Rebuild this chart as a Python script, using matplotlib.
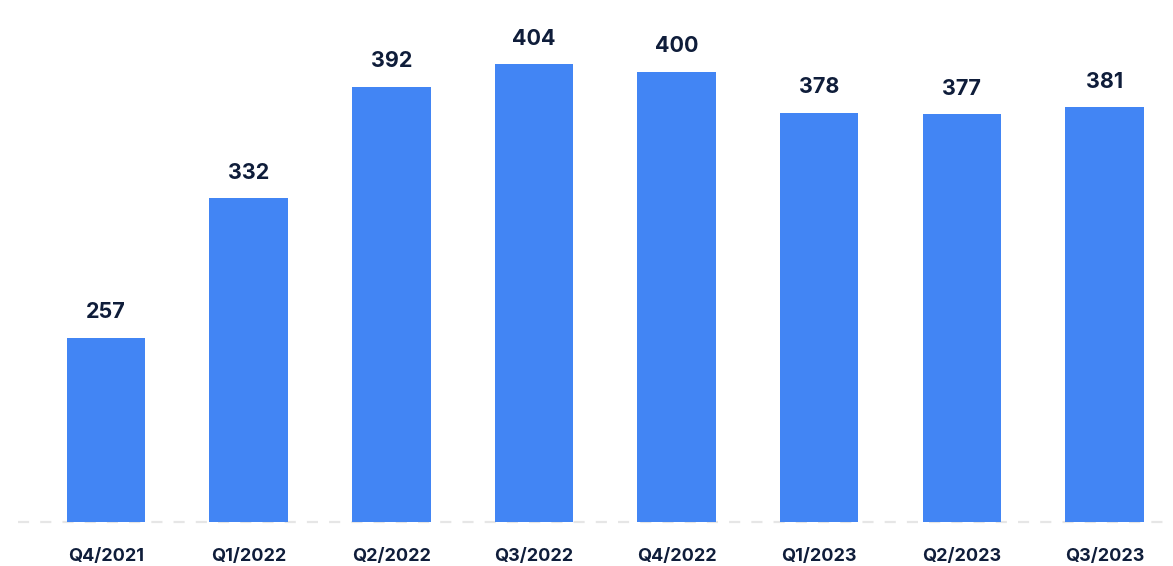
import matplotlib.pyplot as plt
import numpy as np

quarters = ["Q4/2021", "Q1/2022", "Q2/2022", "Q3/2022",
            "Q4/2022", "Q1/2023", "Q2/2023", "Q3/2023"]
values = [257, 332, 392, 404, 400, 378, 377, 381]

BAR_COLOR = "#4285f4"
TEXT_COLOR = "#0f1d3a"

plt.rcParams['font.family'] = ['Inter', 'DejaVu Sans']

fig = plt.figure(figsize=(11.73, 5.66), dpi=100)
ax = fig.add_axes([18 / 1173, 44 / 566, 1 - 18 / 1173, 1 - 44 / 566])

x = np.arange(len(quarters))
bars = ax.bar(x, values, width=0.55, color=BAR_COLOR, zorder=2)

# value labels above each bar
for xi, v in zip(x, values):
    ax.annotate(f"{v}", (xi, v), xytext=(0, 11), textcoords="offset points",
                ha="center", va="bottom", fontsize=15.5, fontweight="bold",
                color=TEXT_COLOR)

ymin, ymax = 158, 438.5
ax.set_ylim(ymin, ymax)
ax.set_xlim(-0.617, 7.48)
ax.axhline(ymin, color="#e6e6e6", linewidth=1.6, linestyle=(0, (5, 5)),
           zorder=1, clip_on=False)

ax.set_xticks(x)
ax.set_xticklabels(quarters, fontsize=13, fontweight="bold", color=TEXT_COLOR)
ax.tick_params(axis="x", length=0, pad=19)
ax.set_yticks([])
for side in ["top", "right", "left", "bottom"]:
    ax.spines[side].set_visible(False)

fig.savefig("out.png", dpi=100)
